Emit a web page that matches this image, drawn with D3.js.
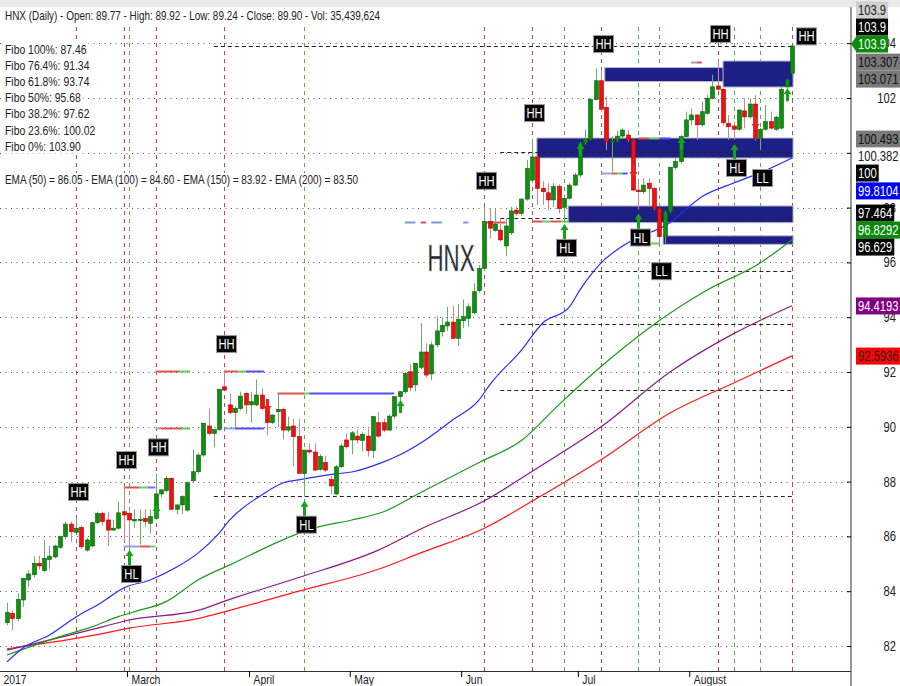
<html>
<head>
<script src="https://d3js.org/d3.v7.min.js"></script>
<style>
  body{margin:0;background:#fff;}
  svg{display:block;font-family:"Liberation Sans","Arial",sans-serif;}
</style>
</head>
<body>
<svg id="chart" width="900" height="686"></svg>
<script>
// ---- data ----
// daily candles [open, high, low, close], index 0 = first bar (Feb 2017)
const candles = [
[82.85,83.58,82.75,83.22],[83.19,83.30,82.58,83.00],[83.00,83.92,82.90,83.70],[83.68,84.47,83.43,84.47],[84.41,84.77,84.16,84.63],
[84.60,85.28,84.50,85.02],[85.02,85.30,84.77,84.92],[84.75,85.87,84.70,85.20],[85.16,85.65,84.81,85.28],[85.25,85.70,85.20,85.65],
[85.60,86.03,85.55,85.99],[85.99,86.54,85.90,86.45],[86.45,86.54,85.80,86.17],[86.14,86.67,86.10,86.30],[86.33,86.40,85.55,85.62],
[85.50,85.95,85.44,85.87],[85.65,86.55,85.60,86.50],[86.50,86.90,86.45,86.84],[86.84,86.90,86.40,86.54],[86.60,86.90,85.65,86.23],
[86.23,86.60,86.20,86.30],[86.30,87.27,86.25,86.86],[86.90,87.84,85.81,86.78],[86.84,86.90,85.65,86.60],[86.58,86.99,86.30,86.62],
[86.60,86.99,85.70,86.63],[86.66,86.99,86.35,86.54],[86.48,86.99,86.11,86.72],[86.66,88.30,86.60,87.55],[87.55,87.70,87.43,87.70],
[87.67,88.20,87.60,88.12],[88.12,88.15,86.99,86.99],[86.99,87.15,86.80,87.15],[87.15,87.50,86.82,87.45],[86.96,88.00,86.90,87.96],
[88.03,89.17,87.95,88.36],[88.36,89.05,88.30,88.97],[88.97,90.15,88.90,90.13],[90.03,90.67,89.70,89.76],[89.76,89.90,89.25,89.90],
[89.90,91.37,89.85,91.37],[91.46,92.07,91.30,91.34],[90.80,91.22,90.45,90.52],[90.52,90.75,89.98,90.67],[90.67,91.28,90.60,91.12],
[91.22,91.28,90.47,90.80],[90.80,91.28,90.15,90.92],[90.80,91.73,90.75,91.16],[91.16,91.40,90.60,90.67],[90.67,90.92,89.68,90.15],
[90.15,90.45,90.10,90.43],[90.55,91.22,90.00,90.64],[90.64,90.70,89.54,89.88],[89.88,90.37,89.80,90.00],[90.03,90.30,88.57,89.64],
[89.64,90.28,88.30,88.30],[88.30,89.15,87.45,89.15],[89.15,89.40,89.00,89.08],[89.08,89.40,88.40,88.42],[88.45,89.00,88.40,88.91],
[88.70,88.95,88.35,88.42],[88.08,88.20,87.55,87.84],[87.55,88.60,87.50,88.54],[88.54,89.40,88.50,89.30],[89.52,89.76,89.20,89.27],
[89.52,89.85,89.00,89.78],[89.66,89.90,89.40,89.52],[89.50,89.80,89.10,89.73],[89.66,89.95,88.91,89.13],[89.13,90.40,88.85,90.37],
[90.15,90.55,89.60,89.66],[90.15,90.30,89.80,89.88],[89.88,90.45,89.85,90.39],[90.39,91.10,90.30,91.10],[91.10,91.30,90.95,91.28],
[91.28,92.00,91.20,91.95],[92.01,92.30,91.30,91.44],[91.53,92.32,91.30,92.32],[92.17,93.78,92.10,92.73],[92.73,93.05,91.78,91.89],
[91.93,93.10,91.70,92.99],[92.99,94.04,92.90,93.50],[93.47,94.00,93.29,93.70],[93.68,94.38,93.50,93.82],[93.82,94.41,93.20,93.23],
[93.23,94.48,92.95,93.92],[93.87,94.65,93.60,94.02],[93.96,94.50,93.65,94.38],[94.16,95.24,94.10,94.93],[94.97,95.90,94.90,95.78],
[95.78,98.03,95.70,97.49],[97.49,97.97,96.88,97.25],[97.16,97.97,97.12,97.40],[97.18,97.61,96.76,96.82],[96.60,97.61,96.23,97.33],
[97.08,98.03,97.00,97.88],[97.91,98.03,97.70,97.79],[97.79,98.34,97.70,98.31],[98.31,99.74,98.25,99.43],[99.00,100.50,98.90,99.85],
[99.85,99.90,98.10,98.70],[98.70,98.96,98.10,98.58],[98.54,98.90,97.90,98.28],[98.28,98.90,98.03,98.77],[98.77,98.85,97.79,97.97],
[98.01,98.40,97.55,98.34],[98.34,98.90,98.30,98.82],[98.82,99.27,98.80,99.19],[99.19,100.40,99.10,100.36],[100.36,100.86,100.30,100.50],
[100.50,102.00,100.45,101.95],[101.95,103.08,101.90,102.63],[102.63,103.02,101.50,101.59],[101.66,102.05,100.10,100.41],[100.44,100.60,99.30,100.44],
[100.46,100.80,100.40,100.61],[100.61,100.89,100.50,100.83],[100.65,100.83,100.40,100.47],[100.47,100.50,98.60,98.64],[98.64,99.00,97.93,98.58],
[98.58,99.07,98.50,98.82],[98.89,99.07,98.03,98.70],[98.70,98.75,97.91,97.97],[97.97,97.99,96.70,96.94],[96.94,97.90,96.70,97.85],
[97.85,99.50,97.80,99.47],[99.47,99.80,99.40,99.68],[99.68,100.65,99.60,100.59],[100.59,101.50,100.50,101.20],[101.20,101.62,101.01,101.38],
[101.38,101.40,100.47,101.02],[101.02,101.86,100.95,101.50],[101.44,102.11,101.40,101.99],[101.99,102.84,101.95,102.41],[102.44,103.39,102.30,102.32],
[102.32,102.35,101.00,101.10],[101.08,101.38,100.47,100.95],[100.98,101.14,100.47,100.86],[100.86,101.60,100.80,101.56],[101.53,101.99,100.89,101.31],
[101.31,101.99,101.25,101.78],[101.78,102.11,100.45,100.53],[100.53,100.90,100.10,100.86],[100.86,101.74,100.80,101.14],[101.14,101.50,100.85,100.90],
[100.86,101.35,100.80,101.30],[100.90,102.40,100.85,102.32],[102.41,102.70,102.17,102.66],[102.90,103.92,102.85,103.90]
];

const monthIdx = [0, 23, 46, 65, 86, 108, 129];
const monthLabels = ["2017", "March", "April", "May", "Jun", "Jul", "August"];
const yTicks = [82, 84, 86, 88, 90, 92, 94, 96, 98, 100, 102, 104];

// EMA lines, [bar index, value]
const ema50 = [[0,81.42],[3,81.93],[8,82.4],[13,83.06],[18,83.61],[22,84.12],[27,84.41],[32,84.88],[36,85.39],[40,86.12],[42,86.6],[48,87.51],[52,87.95],[55,88.06],[62,88.28],[65,88.35],[71,88.72],[74,88.97],[78,89.41],[84,90.25],[89,90.98],[91,91.53],[97,92.8],[101,93.79],[106,94.37],[108,94.99],[112,95.98],[117,96.71],[125,97.45],[131,98.4],[137,98.9],[142,99.27],[148,99.81]];
const ema100 = [[0,81.67],[10,82.34],[16,82.7],[21,83.07],[24,83.25],[30,83.62],[36,84.41],[42,84.96],[58,86.31],[65,86.6],[71,86.9],[78,87.6],[89,88.7],[97,89.5],[104,90.8],[112,92.2],[121,93.6],[132,94.99],[142,95.98],[148,96.83]];
const ema150 = [[0,81.85],[18,82.7],[23,82.95],[36,83.3],[42,83.7],[55,84.5],[70,85.5],[78,86.27],[90,87.3],[100,88.5],[112,90.0],[125,92.0],[137,93.4],[148,94.42]];
const ema200 = [[0,81.9],[18,82.45],[23,82.65],[36,83.0],[42,83.3],[55,84.0],[70,84.8],[78,85.4],[90,86.3],[100,87.4],[112,88.8],[125,90.5],[137,91.6],[148,92.59]];

// swing points
const swings = [[13,"HH"],[22,"HH"],[23,"HL"],[28,"HH"],[41,"HH"],[56,"HL"],[90,"HH"],[99,"HH"],[105,"HL"],[112,"HH"],[119,"HL"],[123,"LL"],[134,"HH"],[137,"HL"],[142,"LL"],[148,"HH"]];

// signal arrows [bar, tip price, direction]
const signals = [[28,87.15,"up"],[74,90.98,"up"],[108,100.36,"up"],[127,100.58,"up"],[147,102.36,"up"],[49,90.54,"down"],[118,99.08,"down"],[141,100.83,"down"]];

const fiboNames = ["100%", "76.4%", "61.8%", "50%", "38.2%", "23.6%", "0%"];
const fiboValues = [87.46, 91.34, 93.74, 95.68, 97.62, 100.02, 103.90];
const fiboStart = [39, 93, 93, 93, 93, 93, 39];

// blue zones [from bar, to bar, top, bottom]
const zones = [[112.7,148.2,103.11,102.6],[135,148.2,103.35,102.4],[99.9,148.2,100.54,99.81],[105.8,148.2,98.06,97.45],[123.7,148.2,96.97,96.66]];

// short level marks [price, from bar, to bar, colour]
const levelMarks = [
  [87.80,22,25,"#e05050"],[87.80,25,26.5,"#60d060"],[87.80,26.5,28,"#7070ff"],
  [85.65,22,25,"#8fa8d8"],[85.65,25,27,"#e05050"],[85.65,27,28,"#60d060"],
  [92.04,28,32.5,"#e05050"],[92.04,32.5,34.5,"#60d060"],
  [92.04,41,43.5,"#e05050"],[92.04,43.5,45,"#60d060"],[92.04,45,48.5,"#5050ff"],
  [89.96,28,29,"#8fa8d8"],[89.96,29,33,"#e05050"],[89.96,33,34.5,"#60d060"],
  [89.96,41,43,"#8fa8d8"],[89.96,43,48.5,"#5050ff"],
  [91.23,51,56,"#e05050"],[91.23,56,57,"#60d060"],[91.23,57,73,"#5050ff"],
  [97.47,75,77,"#7a9ae0"],[97.47,78,79,"#e05050"],[97.47,80,82,"#7a9ae0"],[97.47,86,87,"#7a9ae0"],[97.47,90,94,"#e05050"],
  [97.50,99,101,"#e05050"],[97.50,101,102.5,"#60d060"],[97.50,102.5,104.5,"#e05050"],[97.50,104.5,106,"#60d060"],
  [99.26,112,114,"#8fa8d8"],[99.26,114,115,"#e05050"],[99.26,115,116,"#60d060"],[99.26,116,117,"#5050ff"],
  [100.55,119,121,"#e05050"],[100.55,121,123,"#60d060"],[100.55,123,125,"#5050ff"],
  [96.71,119,121,"#e05050"],[96.71,121,123,"#60d060"],
  [103.31,129,130,"#8fa8d8"],[103.31,130,131,"#e05050"]
];

// right-hand price tags [text, centre price, fill, text colour]
const tags = [
  ["103.9",105.21,"#cfcfcf","#222"],["103.9",104.59,"#000","#fff"],["103.9",103.97,"#0a8a0a","#fff"],
  ["103.307",103.31,"#7a7a7a","#111"],["103.071",102.69,"#7a7a7a","#111"],["100.493",100.5,"#7a7a7a","#111"],
  ["100.382",99.88,"#fff","#222"],["100",99.26,"#000","#fff"],["99.8104",98.61,"#0000ff","#fff"],
  ["97.464",97.8,"#000","#fff"],["96.8292",97.18,"#0a8a0a","#fff"],["96.629",96.56,"#000","#fff"],
  ["94.4193",94.41,"#800080","#fff"],["92.5936",92.58,"#ff0000","#222"]
];

const titleText = "HNX (Daily) - Open: 89.77 - High: 89.92 - Low: 89.24 - Close: 89.90 - Vol: 35,439,624";
const emaText = "EMA (50) = 86.05 -  EMA (100) = 84.60 -  EMA (150) = 83.92 -  EMA (200) = 83.50";

// ---- drawing ----
const svg = d3.select("#chart");
const plotRight = 851, plotBottom = 671, plotTop = 7;
const narrowK = 0.8;   // the source font is a narrow face

// squeeze a text to narrow width
function narrow(sel) {
  sel.each(function() {
    const w = this.getComputedTextLength();
    d3.select(this).attr("textLength", w * narrowK).attr("lengthAdjust", "spacingAndGlyphs");
  });
  return sel;
}

const x = d3.scaleLinear().domain([0, 148]).range([7, 792]);
const y = d3.scaleLinear().domain([82, 104]).range([646, 43.2]);

svg.append("rect").attr("width", 900).attr("height", 686).attr("fill", "#fff");
svg.append("rect").attr("width", 900).attr("height", plotTop).attr("fill", "#e9e9e9");

// horizontal dotted grid
svg.append("g").selectAll("line").data(yTicks).join("line")
   .attr("x1", 0).attr("x2", plotRight)
   .attr("y1", d => Math.round(y(d)) + 0.5).attr("y2", d => Math.round(y(d)) + 0.5)
   .attr("stroke", "#555").attr("stroke-dasharray", "1,4.5");

// vertical swing lines
svg.append("g").selectAll("line").data(swings).join("line")
   .attr("x1", d => Math.round(x(d[0])) + 0.5).attr("x2", d => Math.round(x(d[0])) + 0.5)
   .attr("y1", 27).attr("y2", plotBottom)
   .attr("stroke", d => d[1] == "HH" ? "#9b3030" : "#3c9a3c")
   .attr("stroke-opacity", 0.85)
   .attr("stroke-dasharray", "4,4");

// zones
svg.append("g").selectAll("rect").data(zones).join("rect")
   .attr("x", d => x(d[0])).attr("width", d => x(d[1]) - x(d[0]))
   .attr("y", d => y(d[2])).attr("height", d => y(d[3]) - y(d[2]))
   .attr("fill", "#1d1f86").attr("stroke", "#b8b8c8").attr("stroke-width", 1);

// fibo dashed levels
svg.append("g").selectAll("line").data(fiboValues).join("line")
   .attr("x1", (d, k) => x(fiboStart[k])).attr("x2", x(148) + 1)
   .attr("y1", d => Math.round(y(d)) + 0.5).attr("y2", d => Math.round(y(d)) + 0.5)
   .attr("stroke", "#222").attr("stroke-width", 1)
   .attr("stroke-dasharray", "4,3");

// level marks
svg.append("g").selectAll("line").data(levelMarks).join("line")
   .attr("x1", d => x(d[1])).attr("x2", d => x(d[2]))
   .attr("y1", d => Math.round(y(d[0])) + 0.5).attr("y2", d => Math.round(y(d[0])) + 0.5)
   .attr("stroke", d => d[3]).attr("stroke-width", 2);

// EMA lines
const emaLine = d3.line().x(d => x(d[0])).y(d => y(d[1])).curve(d3.curveMonotoneX);
[[ema200, "#ff1a1a"], [ema150, "#8a1a8a"], [ema100, "#1a9a1a"], [ema50, "#2a2aff"]].forEach(e => {
  svg.append("path").datum(e[0]).attr("d", emaLine)
     .attr("fill", "none").attr("stroke", e[1]).attr("stroke-width", 1.2);
});

// candles
const cg = svg.append("g");
cg.selectAll("line").data(candles).join("line")
  .attr("x1", (d, i) => Math.round(x(i)) + 0.5).attr("x2", (d, i) => Math.round(x(i)) + 0.5)
  .attr("y1", d => y(d[1])).attr("y2", d => y(d[2]))
  .attr("stroke", d => d[3] >= d[0] ? "#6aae6a" : "#d58585");
cg.selectAll("rect").data(candles).join("rect")
  .attr("x", (d, i) => Math.round(x(i)) - 1.5).attr("width", 4)
  .attr("y", d => y(Math.max(d[0], d[3])))
  .attr("height", d => Math.max(1.5, Math.abs(y(d[0]) - y(d[3]))))
  .attr("fill", d => d[3] >= d[0] ? "#0f8f0f" : "#f01010")
  .attr("stroke", d => d[3] >= d[0] ? "#0a600a" : "#b00000")
  .attr("stroke-width", 0.6);

// arrows
function arrowPath(cx, tip, dir, len) {
  const s = dir == "up" ? 1 : -1;
  return `M${cx},${tip} L${cx + 4},${tip + 6 * s} L${cx + 1.5},${tip + 6 * s} L${cx + 1.5},${tip + len * s} L${cx - 1.5},${tip + len * s} L${cx - 1.5},${tip + 6 * s} L${cx - 4},${tip + 6 * s} Z`;
}
svg.append("g").selectAll("path").data(signals).join("path")
   .attr("d", d => arrowPath(Math.round(x(d[0])) + 0.5, y(d[1]), d[2], 13))
   .attr("fill", d => d[2] == "up" ? "#17a317" : "#f02020");

// swing labels
const lg = svg.append("g");
swings.forEach(s => {
  const i = s[0], c = candles[i];
  const cx = Math.round(x(i)) + 0.5;
  let ly;
  let lx = cx + 2;
  if (s[1] == "HH") {
    ly = y(c[1]) - 26;
    if (i == 148) { lx = cx + 14; ly = y(c[1]) - 9; }
  } else {
    ly = y(c[2]) + 28;
    if (s[1] == "HL") {
      lg.append("path").attr("d", arrowPath(cx, y(c[2]) + 4, "up", ly - 8 - y(c[2]) - 4)).attr("fill", "#17a317");
    }
  }
  lg.append("rect").attr("x", lx - 10).attr("y", ly - 8.5).attr("width", 20).attr("height", 17)
    .attr("fill", "#000").attr("stroke", "#999").attr("stroke-width", 1);
  lg.append("text").attr("x", lx).attr("y", ly + 5).attr("text-anchor", "middle")
    .attr("fill", "#fff").attr("font-size", 14).text(s[1]).call(narrow);
});

// watermark
svg.append("text").attr("x", 451).attr("y", 271).attr("text-anchor", "middle")
   .attr("font-size", 37).attr("fill", "#2b2b2b").attr("stroke", "#9ac").attr("stroke-width", 0.4)
   .attr("textLength", 47).attr("lengthAdjust", "spacingAndGlyphs").text("HNX");

// info texts with white background
const infoG = svg.append("g");
function infoText(t, tx, ty, len) {
  const bg = infoG.append("rect");
  const txt = infoG.append("text").attr("x", tx).attr("y", ty).attr("font-size", 13).attr("fill", "#222").text(t);
  if (len) txt.attr("textLength", len).attr("lengthAdjust", "spacingAndGlyphs");
  else narrow(txt);
  const w = len || +txt.attr("textLength");
  bg.attr("x", tx - 1).attr("y", ty - 11).attr("width", w + 3).attr("height", 14).attr("fill", "#fff");
}
infoText(titleText, 5, 20, 375);
fiboNames.forEach((n, k) => infoText(`Fibo ${n}: ${fiboValues[k].toFixed(2)}`, 5, 54 + k * 16.1));
infoText(emaText, 5, 184, 353);

// axes
const yAxis = d3.axisRight(y).tickValues(yTicks).tickSize(-4).tickFormat(d3.format("d"));
const ya = svg.append("g").attr("transform", `translate(${plotRight},0)`).call(yAxis);
ya.select(".domain").attr("d", `M0,${plotTop}V686`).attr("stroke", "#333");
ya.selectAll("text").attr("x", 45).attr("text-anchor", "end").attr("font-size", 14)
  .attr("font-family", null).attr("fill", "#222").call(narrow);

const xAxis = d3.axisBottom(x).tickValues(monthIdx).tickSize(6).tickFormat((d, k) => monthLabels[k]);
const xa = svg.append("g").attr("transform", `translate(0,${plotBottom})`).call(xAxis);
xa.select(".domain").attr("d", `M0,0.5H${plotRight}`).attr("stroke", "#333");
xa.selectAll(".tick line").attr("transform", "translate(-2,0)");
xa.selectAll(".tick").filter((d, k) => k == 0).select("line").remove();
xa.selectAll("text").attr("x", 2).attr("y", 13).attr("dy", null).attr("text-anchor", "start")
  .attr("font-size", 13).attr("font-family", null).attr("fill", "#222").call(narrow);
xa.selectAll(".tick").filter((d, k) => k == 0).select("text").attr("x", -4);

// price tags
const tg = svg.append("g");
tags.forEach(t => {
  const cy = y(t[1]);
  const g = tg.append("g");
  const bg = g.append("rect");
  const txt = g.append("text").attr("x", 858).attr("y", cy + 5).attr("font-size", 14).attr("fill", t[3]).text(t[0]).call(narrow);
  const w = +txt.attr("textLength");
  bg.attr("x", 856).attr("y", cy - 8.5).attr("width", w + 4).attr("height", 17).attr("fill", t[2]);
  if (t[2] == "#0a8a0a" && t[1] > 103) {
    g.insert("path", "text").attr("d", `M851,${cy} L857,${cy - 8.5} L857,${cy + 8.5} Z`).attr("fill", t[2]);
  }
});
</script>
</body>
</html>
